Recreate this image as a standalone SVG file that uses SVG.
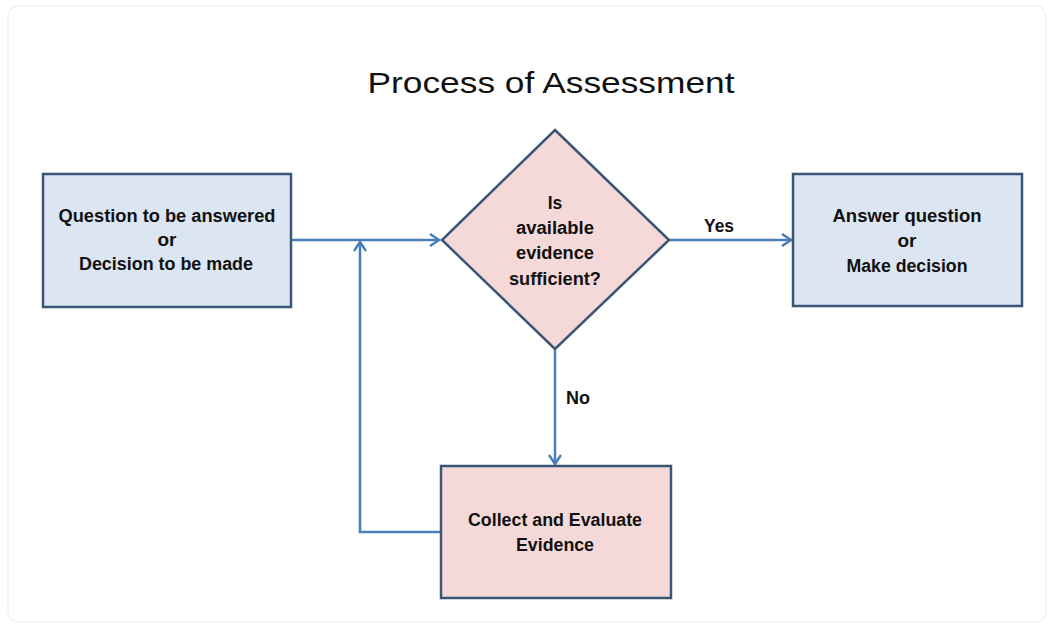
<svg xmlns="http://www.w3.org/2000/svg" width="1054" height="630" viewBox="0 0 1054 630">
  <style>
    .box { stroke: #3a5677; stroke-width: 2.5; }
    .blue { fill: #dce6f2; }
    .pink { fill: #f5d9d9; }
    .lbl { font-family: "Liberation Sans", Arial, sans-serif; font-weight: bold; font-size: 17.5px; fill: #111; text-anchor: middle; }
    .title { font-family: "Liberation Sans", Arial, sans-serif; font-size: 30px; fill: #111; text-anchor: middle; }
    .conn { fill: none; stroke: #4a7ebb; stroke-width: 2.5; }
  </style>
  <defs>
    <marker id="arr" markerWidth="12" markerHeight="14" refX="10" refY="7" orient="auto" markerUnits="userSpaceOnUse">
      <path d="M1,1 L10,7 L1,13" fill="none" stroke="#4a7ebb" stroke-width="2.5"/>
    </marker>
  </defs>
  <rect x="0" y="0" width="1054" height="630" fill="#ffffff"/>
  <rect x="8" y="6" width="1038" height="616" rx="10" fill="none" stroke="#f2f2f2" stroke-width="1.5"/>

  <text class="title" x="551" y="93" textLength="367" lengthAdjust="spacingAndGlyphs">Process of Assessment</text>

  <g id="connectors">
    <line class="conn" x1="292" y1="240" x2="439" y2="240" marker-end="url(#arr)"/>
    <polyline class="conn" points="441,532 360,532 360,242" marker-end="url(#arr)"/>
    <line class="conn" x1="670" y1="240" x2="791" y2="240" marker-end="url(#arr)"/>
    <line class="conn" x1="555" y1="350" x2="555" y2="464" marker-end="url(#arr)"/>
    <text class="lbl" x="719" y="232" textLength="30" lengthAdjust="spacingAndGlyphs">Yes</text>
    <text class="lbl" x="578" y="404" textLength="24" lengthAdjust="spacingAndGlyphs">No</text>
  </g>

  <g id="question">
    <rect class="box blue" x="43" y="174" width="248" height="133"/>
    <text class="lbl" x="167" y="222" textLength="217" lengthAdjust="spacingAndGlyphs">Question to be answered</text>
    <text class="lbl" x="167" y="246" textLength="19" lengthAdjust="spacingAndGlyphs">or</text>
    <text class="lbl" x="166" y="270" textLength="174" lengthAdjust="spacingAndGlyphs">Decision to be made</text>
  </g>

  <g id="decision">
    <polygon class="box pink" points="555,130 669,240 555,349 442,240"/>
    <text class="lbl" x="555" y="209">Is</text>
    <text class="lbl" x="555" y="234" textLength="78" lengthAdjust="spacingAndGlyphs">available</text>
    <text class="lbl" x="555" y="259" textLength="78" lengthAdjust="spacingAndGlyphs">evidence</text>
    <text class="lbl" x="555" y="285" textLength="92" lengthAdjust="spacingAndGlyphs">sufficient?</text>
  </g>

  <g id="answer">
    <rect class="box blue" x="793" y="174" width="229" height="132"/>
    <text class="lbl" x="907" y="222" textLength="149" lengthAdjust="spacingAndGlyphs">Answer question</text>
    <text class="lbl" x="907" y="247" textLength="19" lengthAdjust="spacingAndGlyphs">or</text>
    <text class="lbl" x="907" y="272" textLength="121" lengthAdjust="spacingAndGlyphs">Make decision</text>
  </g>

  <g id="collect">
    <rect class="box pink" x="441" y="466" width="230" height="132"/>
    <text class="lbl" x="555" y="526" textLength="174" lengthAdjust="spacingAndGlyphs">Collect and Evaluate</text>
    <text class="lbl" x="555" y="551" textLength="78" lengthAdjust="spacingAndGlyphs">Evidence</text>
  </g>
</svg>
